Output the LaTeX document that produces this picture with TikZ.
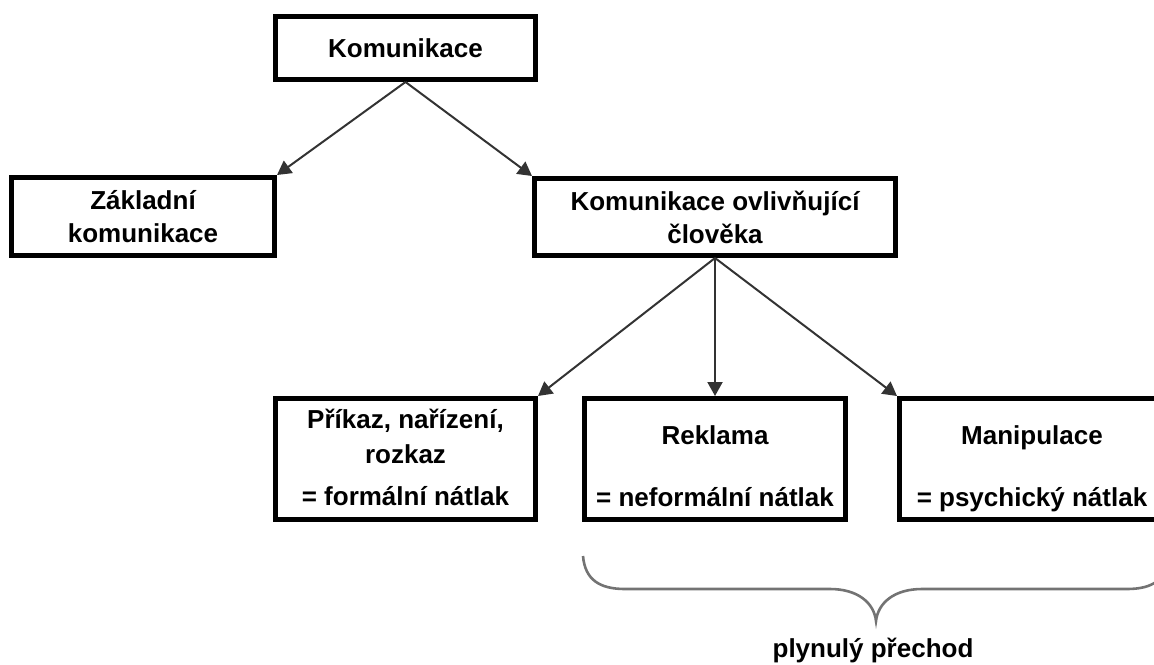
\documentclass[tikz,border=0pt]{standalone}
\usepackage{fontspec}
\setmainfont{Liberation Sans}
\usetikzlibrary{arrows.meta}
\begin{document}
\begin{tikzpicture}[x=0.5pt,y=-0.5pt,
  box/.style={draw=black, line width=2.5pt, fill=white, inner sep=0pt, align=center,
              font=\fontsize{13}{16.5}\selectfont\bfseries},
  lbl/.style={align=center, inner sep=0pt, font=\fontsize{13}{16.5}\selectfont\bfseries},
  arr/.style={draw=black!80, line width=1pt, -{Triangle[length=7pt,width=7.5pt]}},
  bracestyle/.style={draw=black!55, line width=1.3pt}]
\useasboundingbox (0,0) rectangle (1154,664);
\clip (0,0) rectangle (1154,664);
% boxes
\node[box, minimum width=130pt, minimum height=31.5pt] (kom) at (405.5,48) {Komunikace};
\node[box, minimum width=131.5pt, minimum height=39pt] (zak) at (143,216.5) {Základní\\komunikace};
\node[box, minimum width=180.5pt, minimum height=38.5pt] (ovl) at (715,217) {Komunikace ovlivňující\\člověka};
\node[box, minimum width=130pt, minimum height=60.5pt] (pr) at (405.5,459) {};
\node[box, minimum width=130.5pt, minimum height=60.5pt] (rek) at (715,459) {};
\node[box, minimum width=134pt, minimum height=60.5pt] (man) at (1033.5,459) {};
% texts of lower boxes
\node[lbl, font=\fontsize{13}{17.5}\selectfont\bfseries] (prt) at (405.5,457) {Příkaz, nařízení,\\rozkaz\\[3.5pt]= formální nátlak};
\node[lbl] (rekt) at (715,466) {Reklama\\[14.5pt]= neformální nátlak};
\node[lbl] (mant) at (1032,469) {Manipulace\\[14.5pt]= psychický nátlak};
% connectors
\draw[arr] (kom.south) -- (zak.north east);
\draw[arr] (kom.south) -- (ovl.north west);
\draw[arr] (ovl.south) -- (pr.north east);
\draw[arr] (ovl.south) -- (rek.north);
\draw[arr] (ovl.south) -- (man.north west);
% brace
\coordinate (bl) at (583,556);
\coordinate (bt) at (876,621);
\coordinate (br) at (1169,556);
\draw[bracestyle] (bl) .. controls (585,580) and (600,589) .. (625,589) -- (830,589)
  .. controls (858,589) and (874,603) .. (bt)
  .. controls (878,603) and (894,589) .. (922,589) -- (1127,589)
  .. controls (1152,589) and (1167,580) .. (br);
\node[lbl] (ph) at (873,650) {plynulý přechod};
\end{tikzpicture}
\end{document}
